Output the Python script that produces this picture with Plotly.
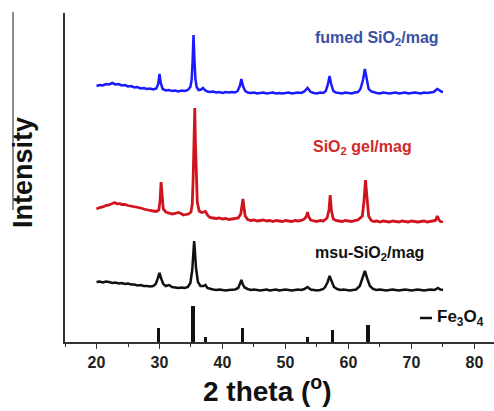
import plotly.graph_objects as go

# ---------------- data ----------------
# Fe3O4 reference pattern: 2theta positions and relative intensities
fe3o4_2theta = [29.8, 35.3, 37.3, 43.2, 53.5, 57.5, 63.1]
fe3o4_int = [40, 100, 14, 40, 14, 32, 47]

# fumed SiO2/mag (offset intensity, a.u.)
fumed_x = [20, 20.5, 21, 21.5, 22, 22.5, 23, 23.5, 24, 24.5,
           25, 25.5, 26, 26.5, 27, 27.5, 28, 28.5, 29, 29.5,
           29.8, 30.0, 30.2, 30.5, 31, 31.5, 32, 32.5, 33, 33.5,
           34, 34.5, 34.9, 35.1, 35.25, 35.4, 35.55, 35.7, 35.9, 36.2,
           36.6, 36.9, 37.2, 37.6, 38, 38.5, 39, 39.5, 40, 40.5,
           41, 41.5, 42, 42.4, 42.75, 43.0, 43.25, 43.6, 44, 44.5,
           45, 45.5, 46, 46.5, 47, 47.5, 48, 48.5, 49, 49.5,
           50, 50.5, 51, 51.5, 52, 52.5, 53.0, 53.5, 54.0, 54.5,
           55, 55.5, 56, 56.4, 56.75, 57.0, 57.25, 57.6, 58, 58.5,
           59, 59.5, 60, 60.5, 61, 61.5, 61.9, 62.3, 62.6, 62.9,
           63.2, 63.6, 64, 64.5, 65, 65.5, 66, 66.5, 67, 67.5,
           68, 68.5, 69, 69.5, 70, 70.5, 71, 71.5, 72, 72.5,
           73, 73.5, 73.8, 74.1, 74.4, 74.7, 75]
fumed_y = [256, 257, 256.5, 258, 257.5, 259, 257.5, 258, 256.5, 257,
           255.5, 256, 254.5, 255, 253.5, 254, 253, 253.5, 252.5, 253.5,
           258, 268, 259, 253, 251.5, 252, 251, 251.5, 250.5, 251.5,
           251, 252, 255, 262, 280, 307, 282, 263, 255, 252,
           252.5, 254, 252, 250.5, 250, 250.5, 249.5, 250, 249, 250,
           249.5, 250, 249.5, 251, 256, 263, 256, 251, 249.5, 249,
           249.5, 248.5, 249, 249.5, 248.5, 249, 249.5, 248.5, 249, 248.5,
           249, 249.5, 248.5, 249, 249.5, 249, 250.5, 254, 250, 249,
           248.5, 249.5, 249, 251, 258, 266, 258, 251, 249.5, 249,
           248.5, 249.5, 249, 248.5, 249.5, 250, 253, 262, 273, 262,
           253, 250.5, 249.5, 249, 248.5, 249.5, 249, 248.5, 249, 249.5,
           248.5, 249, 249.5, 248.5, 249, 249.5, 249, 248.5, 249.5, 249,
           249.5, 250, 251.5, 253, 252, 250.5, 250]

# SiO2 gel/mag
gel_x = [20, 20.5, 21, 21.5, 22, 22.5, 22.9, 23.3, 23.7, 24,
         24.5, 25, 25.5, 26, 26.5, 27, 27.5, 28, 28.5, 29,
         29.5, 29.9, 30.1, 30.25, 30.4, 30.6, 31, 31.5, 32, 32.5,
         33, 33.4, 33.8, 34.2, 34.6, 35.0, 35.2, 35.35, 35.5, 35.6,
         35.7, 35.85, 36.0, 36.3, 36.7, 37.0, 37.3, 37.6, 38, 38.5,
         39, 39.5, 40, 40.5, 41, 41.5, 42, 42.5, 42.9, 43.1,
         43.25, 43.4, 43.6, 44, 44.5, 45, 45.5, 46, 46.5, 47,
         47.5, 48, 48.5, 49, 49.5, 50, 50.5, 51, 51.5, 52,
         52.5, 53.0, 53.35, 53.5, 53.7, 54, 54.5, 55, 55.5, 56,
         56.6, 56.9, 57.1, 57.3, 57.6, 58, 58.5, 59, 59.5, 60,
         60.5, 61, 61.5, 62.2, 62.45, 62.7, 62.95, 63.2, 63.6, 64,
         64.5, 65, 65.5, 66, 66.5, 67, 67.5, 68, 68.5, 69,
         69.5, 70, 70.5, 71, 71.5, 72, 72.5, 73, 73.5, 73.8,
         74.1, 74.35, 74.6, 75]
gel_y = [133, 134.5, 135, 136.5, 137, 138, 139.5, 138, 138.5, 137.5,
         137.5, 136.5, 136, 135, 134.5, 134, 133, 132, 131.5, 131,
         130.5, 132, 142, 160, 143, 133, 130, 129, 128, 128.5,
         129.5, 128.5, 127, 127.5, 128, 130, 138, 165, 200, 234,
         200, 160, 140, 131, 129.5, 130, 130.5, 127, 124.5, 124,
         123.5, 124, 123, 123.5, 122.5, 123, 123.5, 124, 128, 136,
         143, 135, 126, 122.5, 121.5, 122, 121, 121.5, 122, 121,
         121.5, 120.5, 121.5, 121, 120.5, 121.5, 121, 120.5, 121.5, 121,
         121.5, 123, 126, 130, 125, 122, 121, 120.5, 121.5, 121,
         124, 132, 147, 131, 123, 121.5, 121, 120.5, 121.5, 121,
         120.5, 121.5, 122, 126, 140, 162, 140, 126, 121.5, 120.5,
         121, 120, 121, 120.5, 120, 121, 120.5, 120, 121, 120.5,
         120, 121, 120.5, 120, 120.5, 121, 120, 120.5, 121, 121.5,
         126, 122, 120.5, 120]

# msu-SiO2/mag
msu_x = [20, 20.5, 21, 21.5, 22, 22.5, 23, 23.5, 24, 24.5,
         25, 25.5, 26, 26.5, 27, 27.5, 28, 28.5, 29, 29.4,
         29.7, 30.0, 30.3, 30.6, 31.0, 31.5, 32, 32.5, 33, 33.5,
         34, 34.5, 34.9, 35.2, 35.4, 35.5, 35.6, 35.8, 36.1, 36.5,
         37.0, 37.3, 37.6, 38, 38.5, 39, 39.5, 40, 40.5, 41,
         41.5, 42, 42.5, 42.8, 43.0, 43.2, 43.5, 44, 44.5, 45,
         45.5, 46, 46.5, 47, 47.5, 48, 48.5, 49, 49.5, 50,
         50.5, 51, 51.5, 52, 52.5, 53.0, 53.5, 54.0, 54.5, 55,
         55.5, 56, 56.3, 56.7, 57.0, 57.3, 57.7, 58.2, 58.7, 59.2,
         59.7, 60.2, 60.7, 61.2, 61.8, 62.2, 62.6, 63.0, 63.4, 63.9,
         64.4, 65, 65.5, 66, 66.5, 67, 67.5, 68, 68.5, 69,
         69.5, 70, 70.5, 71, 71.5, 72, 72.5, 73, 73.5, 73.8,
         74.2, 74.6, 75]
msu_y = [60, 60.5, 59.5, 60.5, 60, 59, 59.5, 58.5, 59, 58,
         58.5, 57.5, 57.5, 56.5, 57, 56, 56, 55.5, 56, 58,
         63, 69, 63, 58, 56, 57, 55, 54.5, 54, 54.5,
         54, 55, 59, 72, 92, 101, 93, 74, 60, 56,
         56, 57, 54, 53, 52.5, 52, 52.5, 52, 51.5, 52,
         52, 52.5, 54, 58, 62, 58, 54.5, 53, 52, 52.5,
         52, 51.5, 52, 52.5, 51.5, 52, 52.5, 51.5, 52, 52.5,
         52, 51.5, 52, 52.5, 52, 53, 55, 52.5, 52, 51.5,
         52, 53, 55, 60, 66, 61, 55, 53, 52, 52.5,
         52, 51.5, 52, 52.5, 56, 63, 71, 63, 56, 53,
         52, 52.5, 52, 51.5, 52, 52.5, 52, 51.5, 52, 52.5,
         52, 51.5, 52, 52.5, 52, 51.5, 52, 52.5, 52, 52.5,
         54, 52.5, 52]

x_ticks = [20, 30, 40, 50, 60, 70, 80]

# ---------------- figure ----------------
W, H = 494, 411
ML, MR, MT, MB = 65, 0, 13, 69
REF_SCALE = 0.36
FONT = "Arial, Liberation Sans, sans-serif"

fig = go.Figure()

fig.add_trace(go.Bar(
    x=fe3o4_2theta, y=[v * REF_SCALE for v in fe3o4_int],
    width=0.55, marker=dict(color="#111111", line=dict(width=0)),
    showlegend=False, hoverinfo="skip"))

fig.add_trace(go.Scatter(x=msu_x, y=msu_y, mode="lines",
                         line=dict(color="#111111", width=2.5), showlegend=False))
fig.add_trace(go.Scatter(x=gel_x, y=gel_y, mode="lines",
                         line=dict(color="#d0141e", width=2.8), showlegend=False))
fig.add_trace(go.Scatter(x=fumed_x, y=fumed_y, mode="lines",
                         line=dict(color="#1a1aff", width=2.5), showlegend=False))

pw, ph = W - ML - MR, H - MT - MB

annotations = [
    dict(x=64.5, y=304, xref="x", yref="y", text="fumed SiO<sub>2</sub>/mag",
         showarrow=False, font=dict(family=FONT, size=16, color="#3a4fa6", weight="bold")),
    dict(x=62.2, y=195, xref="x", yref="y", text="SiO<sub>2</sub> gel/mag",
         showarrow=False, font=dict(family=FONT, size=16, color="#d02a2a", weight="bold")),
    dict(x=63.3, y=89, xref="x", yref="y", text="msu-SiO<sub>2</sub>/mag",
         showarrow=False, font=dict(family=FONT, size=16, color="#111111", weight="bold")),
    dict(x=(435 - ML) / pw, y=(H - MB - 318) / ph,
         xref="paper", yref="paper", xanchor="left", yanchor="middle",
         text="Fe<sub>3</sub>O<sub>4</sub>", showarrow=False,
         font=dict(family=FONT, size=17, color="#111111", weight="bold")),
    dict(x=(267 - ML) / pw, y=(H - MB - 409) / ph,
         xref="paper", yref="paper", xanchor="center", yanchor="bottom",
         text="2 theta (<sup>o</sup>)", showarrow=False,
         font=dict(family=FONT, size=28, color="#111111", weight="bold")),
    dict(x=(23 - ML) / pw, y=(H - MB - 173) / ph,
         xref="paper", yref="paper", xanchor="center", yanchor="middle",
         text="Intensity", textangle=-90, showarrow=False,
         font=dict(family=FONT, size=27, color="#111111", weight="bold")),
]

shapes = [
    dict(type="line", xref="paper", yref="paper",
         x0=(420 - ML) / pw, x1=(432 - ML) / pw,
         y0=(H - MB - 318) / ph, y1=(H - MB - 318) / ph,
         line=dict(color="#111111", width=2.5)),
    dict(type="line", xref="paper", yref="paper",
         x0=(13 - ML) / pw, x1=(13 - ML) / pw,
         y0=(H - MB - 12) / ph, y1=(H - MB - 210) / ph,
         line=dict(color="#666666", width=1.5)),
]

fig.update_layout(
    width=W, height=H,
    margin=dict(l=ML, r=MR, t=MT, b=MB, pad=0),
    paper_bgcolor="white", plot_bgcolor="white",
    annotations=annotations, shapes=shapes,
    bargap=0,
    xaxis=dict(range=[15, 83.1], tickvals=x_ticks, ticks="outside", ticklen=5,
               tickwidth=1.3, tickcolor="#333333",
               showline=True, linecolor="#333333", linewidth=1.5,
               showgrid=False, zeroline=False,
               minor=dict(tickvals=[15, 25, 35, 45, 55, 65, 75], ticks="outside",
                          ticklen=3, tickcolor="#333333", tickwidth=1.3),
               tickfont=dict(family=FONT, size=16, color="#222222", weight="bold")),
    yaxis=dict(range=[0, ph], showticklabels=False, ticks="",
               showline=True, linecolor="#333333", linewidth=1.5,
               showgrid=False, zeroline=False),
)

fig.write_html("out.html")
